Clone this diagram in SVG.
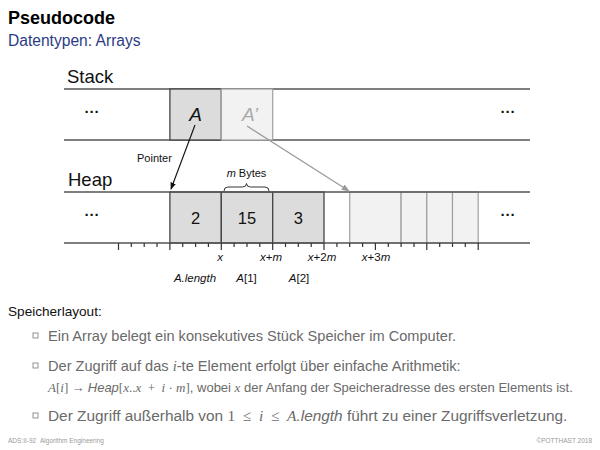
<svg xmlns="http://www.w3.org/2000/svg" width="600" height="450" viewBox="0 0 600 450">
<style>
text{font-family:"Liberation Sans",Arial,sans-serif}
.lbl{font-size:18.5px;fill:#111}
.dots{font-size:15px;fill:#111;font-weight:bold}
.num{font-size:16.5px;fill:#111;text-anchor:middle}
.ax{font-size:11.5px;fill:#111;text-anchor:middle}
.it{font-style:italic}
.rule{stroke:#555;stroke-width:1.5;fill:none}
.dk{fill:#dcdcdc;stroke:#444;stroke-width:1.3}
.lt{fill:#f2f2f2;stroke:#a0a0a0;stroke-width:1.2}
.body{font-size:14.6px;fill:#6a6a6a}
.math{font-family:"Liberation Serif","Times New Roman",serif;font-style:italic}
.rm{font-family:"Liberation Serif","Times New Roman",serif}
.bul{fill:none;stroke:#888;stroke-width:0.9}
.foot{font-size:6.5px;fill:#9a9a9a}
</style>
<defs>
<marker id="ahB" viewBox="0 0 10 10" refX="9" refY="5" markerWidth="7" markerHeight="7" orient="auto" markerUnits="userSpaceOnUse">
<path d="M0,1 L10,5 L0,9 z" fill="#111"/>
</marker>
<marker id="ahG" viewBox="0 0 10 10" refX="9" refY="5" markerWidth="8" markerHeight="8" orient="auto" markerUnits="userSpaceOnUse">
<path d="M0,1 L10,5 L0,9 z" fill="#999"/>
</marker>
</defs>

<g id="title">
<text x="8" y="24" style="font-size:18px;font-weight:bold;fill:#000">Pseudocode</text>
<text x="8" y="46" style="font-size:15.6px;fill:#2b3c84">Datentypen: Arrays</text>
</g>

<g id="stack">
<text class="lbl" x="67" y="83">Stack</text>
<line class="rule" x1="64" y1="89" x2="530" y2="89"/>
<line class="rule" x1="64" y1="140" x2="530" y2="140"/>
<text class="dots" x="92" y="117" text-anchor="middle">···</text>
<text class="dots" x="508" y="117" text-anchor="middle">···</text>
</g>
<g id="cell-A">
<rect class="dk" x="169.9" y="89" width="51.4" height="51"/>
<text x="195.6" y="121" class="num it" style="font-size:19px">A</text>
</g>
<g id="cell-A2">
<rect class="lt" x="221.3" y="89" width="51.4" height="51"/>
<text x="250" y="121" class="num it" style="font-size:19px;fill:#aaa">A’</text>
</g>

<g id="heap">
<text class="lbl" x="68" y="186">Heap</text>
<text class="dots" x="92" y="220" text-anchor="middle">···</text>
<text class="dots" x="508" y="220" text-anchor="middle">···</text>
</g>
<g id="cell-len">
<rect class="dk" x="169.9" y="192" width="51.4" height="51"/>
<text class="num" x="195.6" y="224">2</text>
</g>
<g id="cell-1">
<rect class="dk" x="221.3" y="192" width="51.4" height="51"/>
<text class="num" x="247" y="224">15</text>
</g>
<g id="cell-2">
<rect class="dk" x="272.7" y="192" width="51.3" height="51"/>
<text class="num" x="298.3" y="224">3</text>
</g>
<g id="free-cells">
<rect class="lt" x="349.7" y="192" width="51.4" height="51"/>
<rect class="lt" x="401.1" y="192" width="25.7" height="51"/>
<rect class="lt" x="426.8" y="192" width="25.7" height="51"/>
<rect class="lt" x="452.5" y="192" width="25.7" height="51"/>
</g>
<g id="heap-rules">
<line x1="64" y1="192" x2="530" y2="192" class="rule"/>
<line x1="64" y1="243" x2="530" y2="243" class="rule"/>
</g>

<g id="ruler">
<path stroke="#333" stroke-width="1.2" fill="none" d="M118.5,243v7 M131.3,243v4 M144.2,243v4 M157,243v4 M169.9,243v7 M182.7,243v4 M195.6,243v4 M208.4,243v4 M221.3,243v7 M234.1,243v4 M247,243v4 M259.8,243v4 M272.7,243v7 M285.5,243v4 M298.3,243v4 M311.2,243v4 M324,243v7 M336.9,243v4 M349.7,243v4 M362.6,243v4 M375.4,243v7 M388.3,243v4 M401.1,243v4 M414,243v4 M426.8,243v7 M439.7,243v4 M452.5,243v4 M465.3,243v4 M478.2,243v7"/>
<text class="ax it" x="220" y="261">x</text>
<text class="ax" x="271" y="261"><tspan class="it">x</tspan>+<tspan class="it">m</tspan></text>
<text class="ax" x="322" y="261"><tspan class="it">x</tspan>+2<tspan class="it">m</tspan></text>
<text class="ax" x="376" y="261"><tspan class="it">x</tspan>+3<tspan class="it">m</tspan></text>
<text class="ax" x="195" y="282"><tspan class="it">A.length</tspan></text>
<text class="ax" x="246.5" y="282"><tspan class="it">A</tspan>[1]</text>
<text class="ax" x="299" y="282"><tspan class="it">A</tspan>[2]</text>
</g>

<g id="brace">
<path d="M224,191 Q224,187 228,187 L242.5,187 Q246.5,187 246.5,183.5 Q246.5,187 250.5,187 L265,187 Q269,187 269,191" fill="none" stroke="#333" stroke-width="1"/>
<text x="246.5" y="177" style="font-size:11px;fill:#111;text-anchor:middle"><tspan class="it">m</tspan> Bytes</text>
</g>

<g id="connectors">
<line x1="195" y1="125" x2="171" y2="189" stroke="#111" stroke-width="1.2" marker-end="url(#ahB)"/>
<text x="137" y="162" style="font-size:11px;fill:#111">Pointer</text>
<line x1="247" y1="126" x2="349" y2="191" stroke="#999" stroke-width="1.2" marker-end="url(#ahG)"/>
</g>

<g id="text-body">
<text x="8" y="316" style="font-size:13.6px;fill:#111">Speicherlayout:</text>
<rect class="bul" x="33" y="333" width="5" height="5"/>
<text class="body" x="48" y="341">Ein Array belegt ein konsekutives Stück Speicher im Computer.</text>
<rect class="bul" x="33" y="363" width="5" height="5"/>
<text class="body" x="48" y="371" xml:space="preserve">Der Zugriff auf das <tspan class="math">i</tspan>-te Element erfolgt über einfache Arithmetik:</text>
<text x="48" y="392" style="font-size:13px;fill:#6a6a6a" xml:space="preserve"><tspan class="math">A</tspan><tspan class="rm">[</tspan><tspan class="math">i</tspan><tspan class="rm">] → </tspan><tspan class="it">Heap</tspan><tspan class="rm">[</tspan><tspan class="math">x</tspan><tspan class="rm">..</tspan><tspan class="math">x</tspan><tspan class="rm">  +  </tspan><tspan class="math">i</tspan><tspan class="rm"> · </tspan><tspan class="math">m</tspan><tspan class="rm">]</tspan>, wobei <tspan class="math">x</tspan> der Anfang der Speicheradresse des ersten Elements ist.</text>
<rect class="bul" x="33" y="413" width="5" height="5"/>
<text class="body" x="48" y="421" style="font-size:15.4px" xml:space="preserve">Der Zugriff außerhalb von <tspan class="rm">1  ≤  </tspan><tspan class="math">i</tspan><tspan class="rm">  ≤  </tspan><tspan class="math">A</tspan><tspan class="it">.length</tspan> führt zu einer Zugriffsverletzung.</text>
</g>

<g id="footer">
<text class="foot" x="8" y="443">ADS:II-92</text>
<text class="foot" x="40" y="443">Algorithm Engineering</text>
<text class="foot" x="592" y="443" text-anchor="end">©POTTHAST 2018</text>
</g>
</svg>
